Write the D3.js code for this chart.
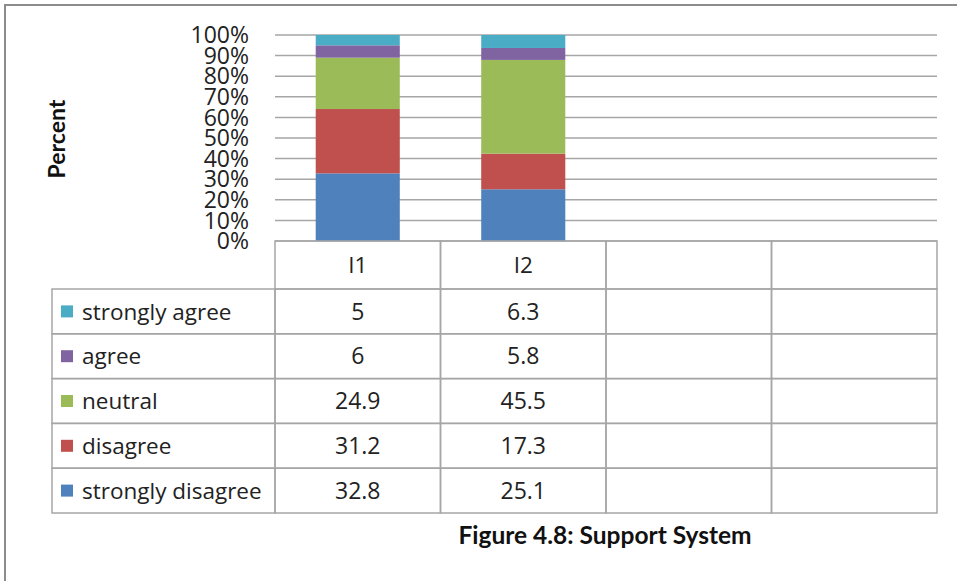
<!DOCTYPE html>
<html lang="en">
<head>
<meta charset="UTF-8">
<script src="https://d3js.org/d3.v7.min.js"></script>
<style>
    body { margin: 0; background: #fff; }
    svg { display: block; font-family: "Open Sans", Lato, sans-serif; }
    .grid line { stroke: #a6a6a6; stroke-width: 1.5px; }
    .cell { fill: none; stroke: #a6a6a6; stroke-width: 1.5px; }
    .tick-label { font-size: 23px; fill: #222; }
    .cell-text { font-size: 22.5px; fill: #222; }
    .cell-num { font-size: 23px; fill: #222; }
</style>
</head>
<body>
<div id="chart"></div>
<script>
    // columns of the data table (only the first two hold data)
    const categories = ["I1", "I2", "", ""];
    // table order, top to bottom
    const seriesNames = ["strongly agree", "agree", "neutral", "disagree", "strongly disagree"];
    const seriesColors = ["#4bacc6", "#8064a2", "#9bbb59", "#c0504d", "#4f81bd"];
    const stronglyAgree = [5, 6.3];
    const agree = [6, 5.8];
    const neutral = [24.9, 45.5];
    const disagree = [31.2, 17.3];
    const stronglyDisagree = [32.8, 25.1];
    const yTicks = [0, 0.1, 0.2, 0.3, 0.4, 0.5, 0.6, 0.7, 0.8, 0.9, 1];

    const seriesValues = [stronglyAgree, agree, neutral, disagree, stronglyDisagree];

    const W = 957, H = 581;
    const plot = {left: 275, right: 937, top: 35, bottom: 241};
    const tableLeft = 52;
    const headerBottom = 289;
    const rowH = 44.8;

    const svg = d3.select("#chart").append("svg")
        .attr("width", W)
        .attr("height", H);

    // frame around the figure
    svg.append("path")
        .attr("d", `M5,${H} V5 H${W}`)
        .attr("fill", "none")
        .attr("stroke", "#8c8c8c")
        .attr("stroke-width", 2);

    const x = d3.scaleBand()
        .domain(d3.range(categories.length))
        .range([plot.left, plot.right])
        .paddingInner(0)
        .paddingOuter(0);

    const y = d3.scaleLinear()
        .domain([0, 1])
        .range([plot.bottom, plot.top]);

    // gridlines
    svg.append("g")
        .attr("class", "grid")
        .selectAll("line")
        .data(yTicks)
        .join("line")
        .attr("x1", plot.left)
        .attr("x2", plot.right)
        .attr("y1", d => y(d))
        .attr("y2", d => y(d));

    // rows for stacking
    const rows = [0, 1].map(i => {
        const r = {i};
        seriesNames.forEach((s, k) => r[s] = seriesValues[k][i]);
        return r;
    });

    const stack = d3.stack()
        .keys(seriesNames.slice().reverse())
        .offset(d3.stackOffsetExpand);

    const stacked = stack(rows);
    const colorOf = d3.scaleOrdinal().domain(seriesNames).range(seriesColors);

    const barW = x.bandwidth() * 0.508;
    svg.append("g")
        .selectAll("g")
        .data(stacked)
        .join("g")
        .attr("fill", d => colorOf(d.key))
        .selectAll("rect")
        .data(d => d)
        .join("rect")
        .attr("x", d => x(d.data.i) + (x.bandwidth() - barW) / 2)
        .attr("width", barW)
        .attr("y", d => y(d[1]))
        .attr("height", d => y(d[0]) - y(d[1]));

    // y axis labels
    const fmt = d3.format(".0%");
    svg.append("g")
        .selectAll("text")
        .data(yTicks)
        .join("text")
        .attr("class", "tick-label")
        .attr("x", 249)
        .attr("y", d => y(d))
        .attr("dy", "0.36em")
        .attr("text-anchor", "end")
        .text(d => fmt(d));

    svg.append("text")
        .attr("transform", "translate(65,139) rotate(-90)")
        .attr("text-anchor", "middle")
        .attr("font-family", "Lato, sans-serif")
        .attr("font-size", 23)
        .attr("font-weight", "bold")
        .attr("fill", "#111")
        .text("Percent");

    // data table
    const table = svg.append("g");
    const rowTop = k => headerBottom + k * rowH;

    // header cells
    table.selectAll(".hdr")
        .data(d3.range(categories.length))
        .join("rect")
        .attr("class", "cell")
        .attr("x", d => x(d))
        .attr("y", plot.bottom)
        .attr("width", x.bandwidth())
        .attr("height", headerBottom - plot.bottom);

    table.selectAll(".hdr-text")
        .data(d3.range(categories.length))
        .join("text")
        .attr("class", "cell-text")
        .attr("x", d => x(d) + x.bandwidth() / 2)
        .attr("y", (plot.bottom + headerBottom) / 2)
        .attr("dy", "0.36em")
        .attr("text-anchor", "middle")
        .text(d => categories[d]);

    seriesNames.forEach((name, k) => {
        const top = rowTop(k);
        table.append("rect")
            .attr("class", "cell")
            .attr("x", tableLeft)
            .attr("y", top)
            .attr("width", plot.left - tableLeft)
            .attr("height", rowH);
        table.append("rect")
            .attr("x", 61)
            .attr("y", top + rowH / 2 - 6)
            .attr("width", 12)
            .attr("height", 12)
            .attr("fill", colorOf(name));
        table.append("text")
            .attr("class", "cell-text")
            .attr("x", 82)
            .attr("y", top + rowH / 2)
            .attr("dy", "0.36em")
            .text(name);

        categories.forEach((c, i) => {
            table.append("rect")
                .attr("class", "cell")
                .attr("x", x(i))
                .attr("y", top)
                .attr("width", x.bandwidth())
                .attr("height", rowH);
            const v = seriesValues[k][i];
            if (v !== undefined) {
                table.append("text")
                    .attr("class", "cell-num")
                    .attr("x", x(i) + x.bandwidth() / 2)
                    .attr("y", top + rowH / 2)
                    .attr("dy", "0.36em")
                    .attr("text-anchor", "middle")
                    .text(v);
            }
        });
    });

    svg.append("text")
        .attr("x", 605)
        .attr("y", 535)
        .attr("dy", "0.36em")
        .attr("text-anchor", "middle")
        .attr("font-family", "Lato, sans-serif")
        .attr("font-size", 24.5)
        .attr("font-weight", "bold")
        .attr("fill", "#111")
        .text("Figure 4.8: Support System");
</script>
</body>
</html>
